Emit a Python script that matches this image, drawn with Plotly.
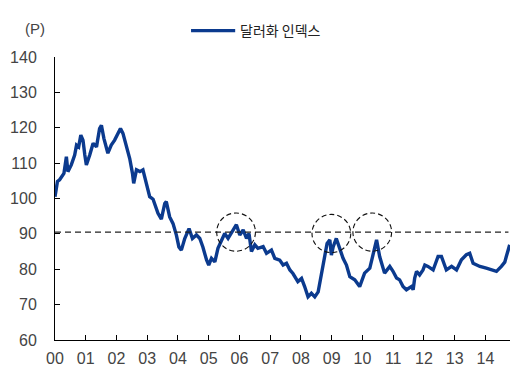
import plotly.graph_objects as go

# Fractional years since 2000 and dollar index values
years = [0.00, 0.08, 0.15, 0.23, 0.29, 0.37, 0.42, 0.53, 0.64, 0.70, 0.77, 0.84, 0.91, 0.97, 1.02,
         1.13, 1.24, 1.35, 1.45, 1.51, 1.59, 1.72, 1.83, 1.94, 2.05, 2.13, 2.21, 2.32, 2.43, 2.52,
         2.56, 2.65, 2.76, 2.86, 2.97, 3.08, 3.19, 3.28, 3.35, 3.46, 3.57, 3.62, 3.73, 3.84, 3.95,
         4.03, 4.11, 4.22, 4.36, 4.47, 4.60, 4.71, 4.81, 4.93, 5.00, 5.09, 5.20, 5.30, 5.41, 5.52,
         5.63, 5.79, 5.90, 6.01, 6.12, 6.23, 6.31, 6.39, 6.50, 6.60, 6.77, 6.88, 7.04, 7.15, 7.31,
         7.42, 7.53, 7.64, 7.74, 7.90, 8.02, 8.12, 8.23, 8.34, 8.45, 8.56, 8.67, 8.77, 8.85, 8.94,
         8.99, 9.05, 9.15, 9.26, 9.37, 9.48, 9.59, 9.75, 9.91, 10.07, 10.24, 10.46, 10.56, 10.72,
         10.89, 10.99, 11.11, 11.21, 11.32, 11.43, 11.59, 11.65, 11.70, 11.76, 11.86, 11.97, 12.03,
         12.13, 12.30, 12.46, 12.57, 12.73, 12.90, 13.06, 13.22, 13.38, 13.49, 13.60, 13.82, 14.03,
         14.20, 14.36, 14.52, 14.63, 14.68, 14.79]
dollar_index = [100.5, 104.8, 105.3, 106.2, 107.1, 111.8, 107.6, 109.5, 112.3, 115.1, 114.6, 117.9,
                116.5, 112.3, 109.5, 112.3, 115.6, 114.6, 119.8, 120.7, 117.0, 112.8, 115.1, 116.5,
                118.4, 119.8, 118.4, 115.1, 111.3, 107.1, 104.3, 108.1, 107.6, 108.1, 104.5, 100.5,
                99.8, 97.7, 95.8, 94.2, 98.6, 99.1, 94.8, 92.9, 89.6, 86.3, 85.4, 88.7, 91.5, 88.7,
                89.7, 88.7, 86.3, 82.6, 81.2, 83.1, 82.1, 85.9, 87.8, 90.1, 88.7, 91.1, 92.6,
                89.7, 91.1, 88.7, 90.1, 85.0, 86.9, 85.9, 86.4, 84.5, 85.4, 83.1, 82.6,
                81.2, 81.7, 79.8, 78.8, 76.5, 77.4, 75.1, 72.2, 73.2, 72.2, 73.6, 79.3, 83.1, 87.3, 88.3,
                84.0, 86.4, 88.7, 85.9, 83.1, 81.2, 77.9, 77.0, 75.1, 78.9, 80.3, 88.3, 83.6, 78.9,
                80.8, 79.5, 77.5, 77.0, 75.1, 74.2, 75.1, 74.2, 77.5, 79.4, 78.4, 79.8, 81.2,
                80.8, 79.8, 83.6, 83.6, 79.8, 80.8, 79.8, 82.7, 84.1, 84.5, 81.7, 80.8, 80.3,
                79.8, 79.4, 80.8, 82.0, 83.6, 86.9]

tick_vals = list(range(15))
tick_labels = ["00", "01", "02", "03", "04", "05", "06", "07", "08", "09", "10", "11", "12", "13", "14"]
y_ticks = [60, 70, 80, 90, 100, 110, 120, 130, 140]

reference_level = 90.5
highlight_centers = [(5.89, 90.5), (8.99, 90.1), (10.32, 90.5)]
circle_rx = 0.63
circle_ry = 5.4

series_name = "달러화 인덱스"
unit_label = "(P)"

line_color = "#0B3A8E"
font_family = "Liberation Sans, Arial, sans-serif"

fig = go.Figure()
fig.add_trace(go.Scatter(
    x=years, y=dollar_index, mode="lines", name=series_name,
    line=dict(color=line_color, width=3.4), showlegend=False, cliponaxis=False,
))

shapes = [dict(type="line", xref="x", yref="y", x0=0, x1=14.75,
               y0=reference_level, y1=reference_level,
               line=dict(color="#222222", width=1.3, dash="6px,4px"), layer="above")]
for cx, cy in highlight_centers:
    shapes.append(dict(type="circle", xref="x", yref="y",
                       x0=cx - circle_rx, x1=cx + circle_rx,
                       y0=cy - circle_ry, y1=cy + circle_ry,
                       line=dict(color="#111111", width=1.1, dash="5px,3px"), layer="above"))
# legend sample line (manual legend)
shapes.append(dict(type="line", xref="paper", yref="paper", x0=0.299, x1=0.396,
                   y0=1.093, y1=1.093, line=dict(color=line_color, width=3.2)))

fig.update_layout(
    width=511, height=362,
    margin=dict(l=47, r=9, t=49, b=30, autoexpand=False),
    paper_bgcolor="white", plot_bgcolor="white",
    font=dict(family=font_family, size=16, color="#333333"),
    shapes=shapes,
    showlegend=False,
    annotations=[
        dict(text=unit_label, xref="paper", yref="paper",
             x=-0.044, y=1.102, xanchor="center", yanchor="middle",
             showarrow=False, font=dict(family=font_family, size=15, color="#444444")),
        dict(text=series_name, xref="paper", yref="paper",
             x=0.402, y=1.095, xanchor="left", yanchor="middle",
             showarrow=False, font=dict(family="Noto Sans CJK KR", size=14, color="#222222")),
    ],
    xaxis=dict(range=[0, 14.8], tickmode="array", tickvals=tick_vals, ticktext=tick_labels,
               showgrid=False, zeroline=False, showline=True, linecolor="black", linewidth=1,
               ticks="inside", ticklen=5, tickcolor="black", automargin=False,
               ticklabelstandoff=4,
               tickfont=dict(family=font_family, size=16, color="#444444")),
    yaxis=dict(range=[60, 140], tickmode="array", tickvals=y_ticks,
               showgrid=False, zeroline=False, showline=True, linecolor="black", linewidth=1,
               ticks="inside", ticklen=5, tickcolor="black", ticklabelstandoff=14, automargin=False,
               tickfont=dict(family=font_family, size=16, color="#444444")),
)

fig.write_html("out.html")
